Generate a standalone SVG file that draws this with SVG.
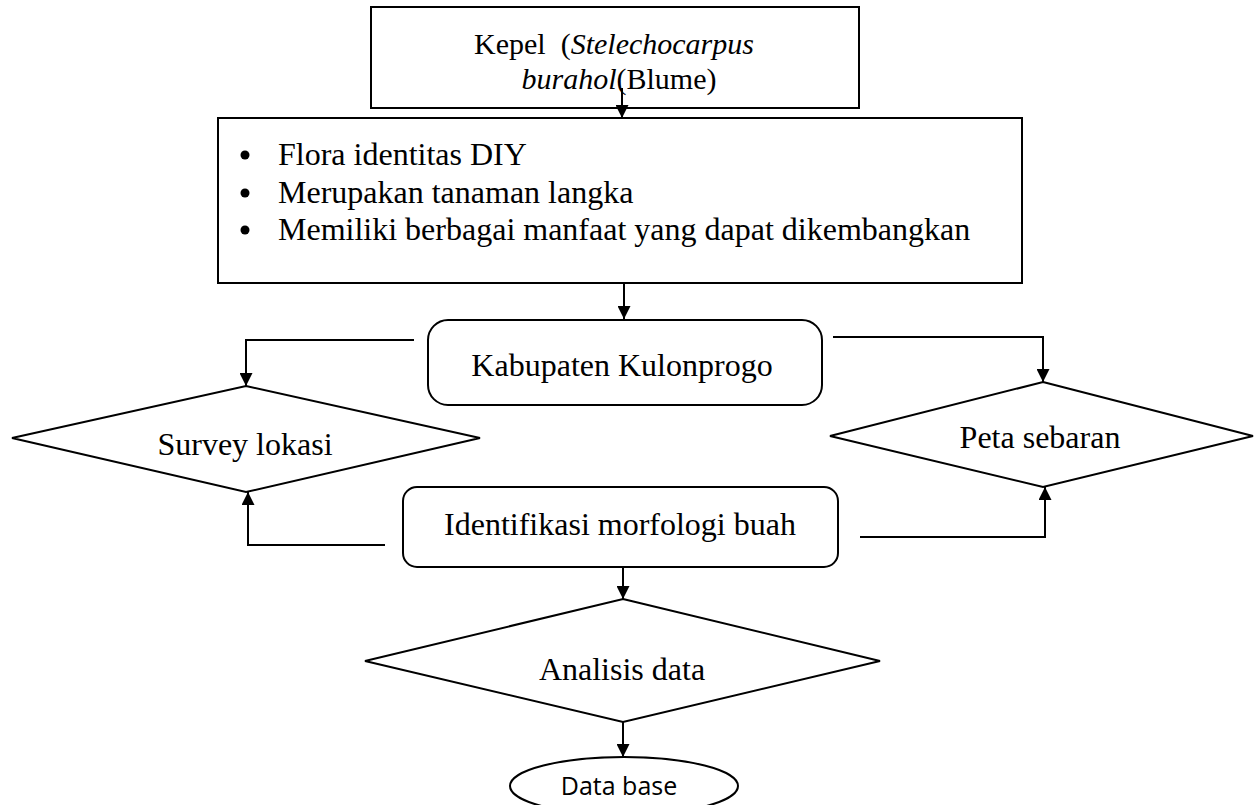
<svg xmlns="http://www.w3.org/2000/svg" width="1259" height="805" viewBox="0 0 1259 805">
<defs>
<marker id="ah" viewBox="0 0 10 10" refX="10" refY="5" markerWidth="14" markerHeight="13" markerUnits="userSpaceOnUse" orient="auto">
<path d="M0,0 L10,5 L0,10 z" fill="#000"/>
</marker>
<style>
.shape{fill:#fff;stroke:#000;stroke-width:2}
.conn{fill:none;stroke:#000;stroke-width:2;marker-end:url(#ah)}
.t{font-family:"Liberation Serif","Times New Roman",serif;font-size:32px;fill:#000}
.k{font-size:30px}
.s{font-family:"Open Sans","Liberation Sans",sans-serif;font-size:25px;fill:#000}
</style>
</defs>
<rect width="1259" height="805" fill="#fff"/>
<g id="kepel">
<rect class="shape" x="371" y="7" width="488" height="101"/>
<text class="t k" x="614" y="54" text-anchor="middle" xml:space="preserve">Kepel  (<tspan font-style="italic">Stelechocarpus</tspan></text>
<text class="t k" x="619" y="89" text-anchor="middle"><tspan font-style="italic">burahol</tspan>(Blume)</text>
</g>
<g id="alasan">
<rect class="shape" x="218" y="118" width="804" height="165"/>
<circle cx="245" cy="155" r="4.5"/>
<circle cx="245" cy="193" r="4.5"/>
<circle cx="245" cy="230" r="4.5"/>
<text class="t" x="278" y="165">Flora identitas DIY</text>
<text class="t" x="278" y="203">Merupakan tanaman langka</text>
<text class="t" x="278" y="240">Memiliki berbagai manfaat yang dapat dikembangkan</text>
</g>
<g id="kabupaten">
<rect class="shape" x="428" y="320" width="394" height="85" rx="20"/>
<text class="t" x="622" y="376" text-anchor="middle" font-size="31">Kabupaten Kulonprogo</text>
</g>
<g id="survey">
<polygon class="shape" points="246,386 480,438 246,492 12,438"/>
<text class="t" x="245" y="455" text-anchor="middle">Survey lokasi</text>
</g>
<g id="peta">
<polygon class="shape" points="1043,382 1253,436 1043,487 830,436"/>
<text class="t" x="1040" y="448" text-anchor="middle">Peta sebaran</text>
</g>
<g id="identifikasi">
<rect class="shape" x="403" y="487" width="435" height="80" rx="14"/>
<text class="t" x="620" y="535" text-anchor="middle">Identifikasi morfologi buah</text>
</g>
<g id="analisis">
<polygon class="shape" points="623,599 880,661 623,722 365,661"/>
<text class="t" x="622" y="680" text-anchor="middle">Analisis data</text>
</g>
<g id="database">
<ellipse class="shape" cx="624" cy="786" rx="114" ry="29"/>
<text class="s" x="619" y="795" text-anchor="middle">Data base</text>
</g>
<g id="connectors">
<path class="conn" d="M622,88 V118"/>
<path class="conn" d="M624,283 V319"/>
<path class="conn" d="M414,340 H246 V386"/>
<path class="conn" d="M833,337 H1043 V382"/>
<path class="conn" d="M385,545 H248 V492"/>
<path class="conn" d="M860,537 H1045 V487"/>
<path class="conn" d="M623,567 V599"/>
<path class="conn" d="M623,722 V757"/>
</g>
</svg>
